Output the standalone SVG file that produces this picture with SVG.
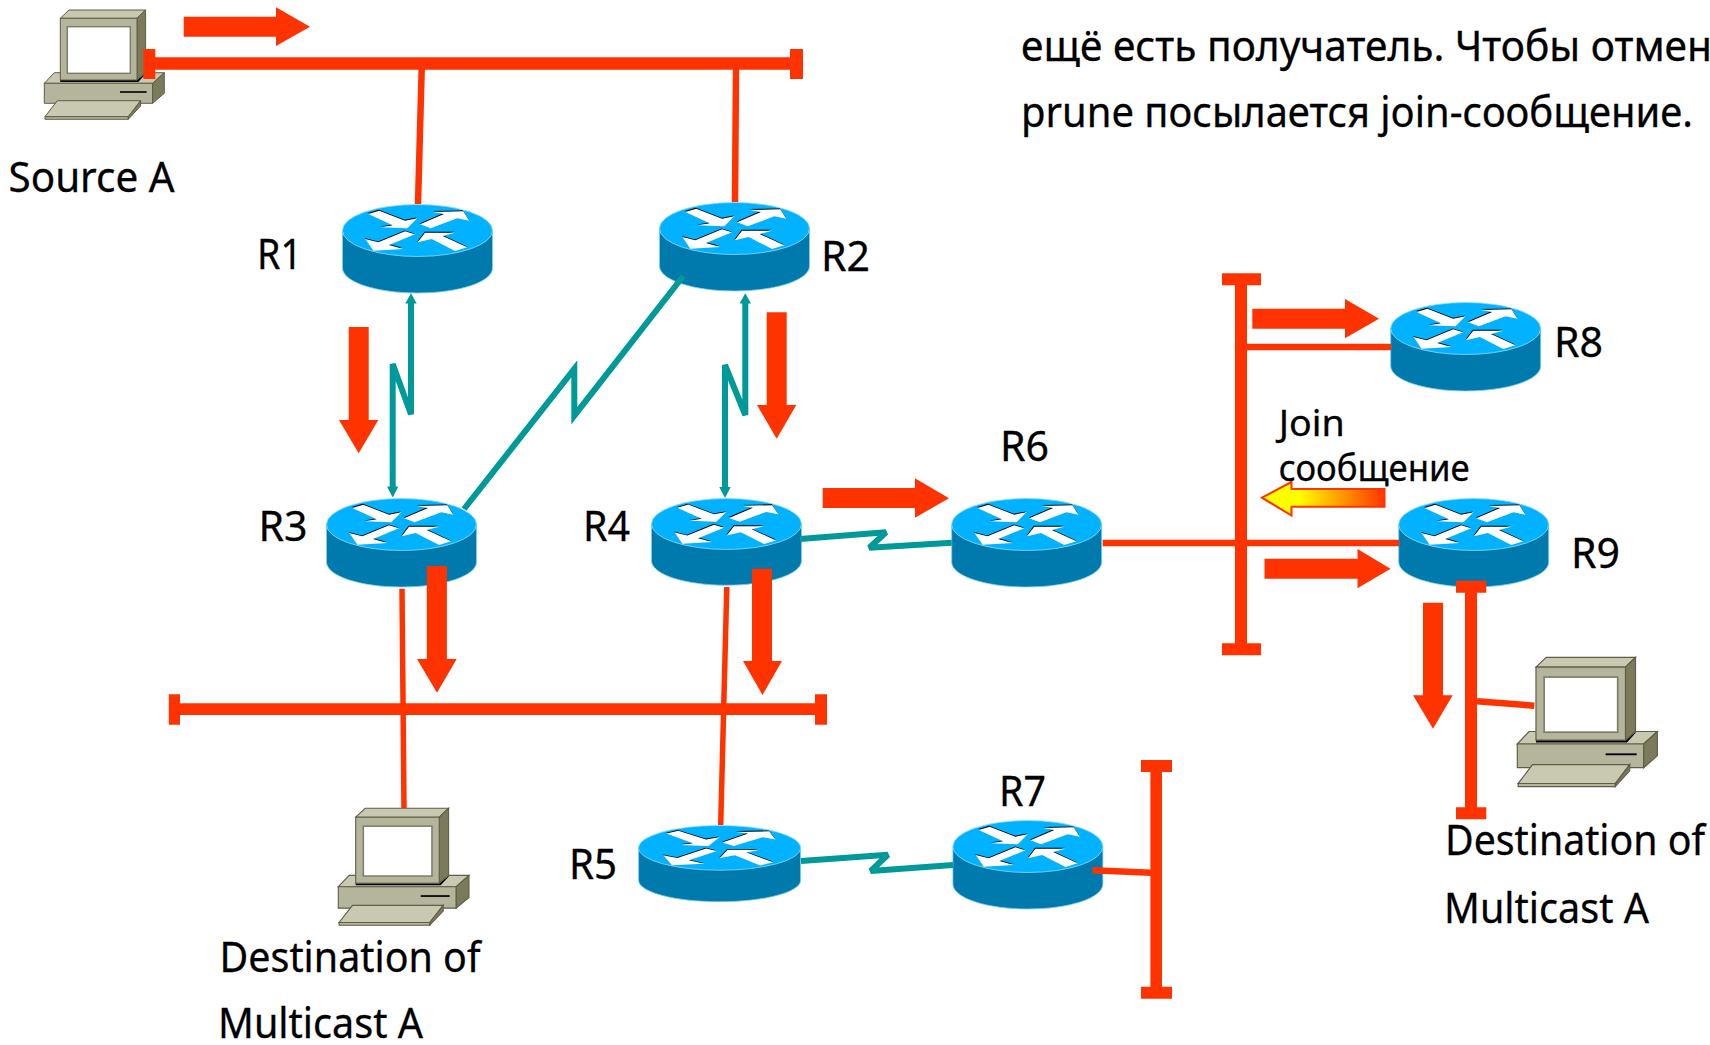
<svg xmlns="http://www.w3.org/2000/svg" xmlns:xlink="http://www.w3.org/1999/xlink" width="1710" height="1045" viewBox="0 0 1710 1045">
<style>
text{font-family:"Noto Sans","DejaVu Sans",sans-serif;fill:#000;font-size:41px;stroke:#000;stroke-width:0.3}
.red{fill:#ff3300}
.rl{fill:none;stroke:#ff3300;stroke-width:6.5}
.tl{fill:none;stroke:#009999;stroke-width:6;stroke-linejoin:miter}
.tz{fill:none;stroke:#009999;stroke-width:6;stroke-linejoin:bevel}
.tah{fill:#009999}
.pa{fill:#c9c9b1;stroke:#5e5e48;stroke-width:1}
.pb{fill:#b5b59b;stroke:#5e5e48;stroke-width:1}
.pc{fill:#7b7b5b;stroke:#5e5e48;stroke-width:1}
</style>
<defs>
<linearGradient id="joinGrad" gradientUnits="userSpaceOnUse" x1="1262" y1="0" x2="1385" y2="0">
<stop offset="0" stop-color="#ffff00"/><stop offset="0.3" stop-color="#ffff00"/><stop offset="1" stop-color="#ff3300"/>
</linearGradient>
<g id="arrows">
<polygon points="25.8,10 36.8,6.7 62.5,16.7 74.8,14.3 64.8,24.3 38.2,23.3 50.2,21.3"/>
<polygon points="77.5,20.3 101.5,10 90.2,8 120.8,7.3 126.8,16.7 114.8,14.3 88.2,24.3"/>
<polygon points="22.8,35 35.8,38.3 62.5,27.3 72.5,30.3 46.5,41 60.8,45 30.8,46.7"/>
<polygon points="75.2,38.3 82.5,28.7 112.5,28.7 100.2,32 124.8,43.3 112.5,47 89.2,35"/>
</g>
<g id="router">
<path d="M0,26.5V64C0,78 33.6,89 75,89S150,78 150,64V26.5Z" fill="#0079ad" stroke="#7fd0ee" stroke-width="0.8"/>
<ellipse cx="75" cy="26.5" rx="75" ry="26" fill="#00b2ff" stroke="#8fdcf8" stroke-width="0.8"/>
<use xlink:href="#arrows" href="#arrows" fill="#000" transform="translate(-0.4,-0.9)"/>
<use xlink:href="#arrows" href="#arrows" fill="#fff"/>
</g>
<g id="pc">
<polygon class="pa" points="0,73.3 10,62.7 120,62.7 108.3,73.3"/>
<polygon class="pb" points="0,73.3 108.3,73.3 108.3,93.3 0,93.3"/>
<polygon class="pc" points="108.3,73.3 120,62.7 120,83.3 108.3,93.3"/>
<rect x="75.7" y="81.2" width="26.6" height="1.6" fill="#000"/>
<polygon points="16,70 92.7,70 101.3,62.7 101.3,64 94,72 16,72" fill="#000"/>
<polygon class="pa" points="16,8.3 24.7,0 101.3,0 92.7,8.3"/>
<polygon class="pc" points="92.7,8.3 101.3,0 101.3,62.7 92.7,70"/>
<rect class="pb" x="16" y="8.3" width="76.7" height="61.7"/>
<rect x="23" y="16.7" width="63" height="46.6" fill="#fff" stroke="#7c7c68" stroke-width="1.4"/>
<polygon class="pa" points="13,90.7 96.3,90.7 84,106.7 0.7,106.7"/>
<polygon class="pb" points="0.7,106.7 84,106.7 84,109.3 0.7,109.3"/>
<polygon class="pc" points="84,106.7 96.3,90.7 96.3,96 84,109.3"/>
</g>
</defs>

<g id="nodes-pc">
<g id="source-a-pc"><use xlink:href="#pc" href="#pc" transform="translate(44.3,10)"/></g>
<g id="dest-1-pc"><use xlink:href="#pc" href="#pc" transform="translate(338.3,808.3) scale(1.089,1.07)"/></g>
<g id="dest-2-pc"><use xlink:href="#pc" href="#pc" transform="translate(1517.3,657.3) scale(1.167,1.183)"/></g>
</g>

<g id="routers">
<g id="R1"><use xlink:href="#router" href="#router" transform="translate(342.5,204)"/></g>
<g id="R2"><use xlink:href="#router" href="#router" transform="translate(659.5,202)"/></g>
<g id="R3"><use xlink:href="#router" href="#router" transform="translate(326.5,498)"/></g>
<g id="R4"><use xlink:href="#router" href="#router" transform="translate(651.5,498) scale(1,0.98)"/></g>
<g id="R5"><use xlink:href="#router" href="#router" transform="translate(638.6,825) scale(1.08,0.862)"/></g>
<g id="R6"><use xlink:href="#router" href="#router" transform="translate(951.7,498)"/></g>
<g id="R7"><use xlink:href="#router" href="#router" transform="translate(952.9,820)"/></g>
<g id="R8"><use xlink:href="#router" href="#router" transform="translate(1390.7,302)"/></g>
<g id="R9"><use xlink:href="#router" href="#router" transform="translate(1398.7,498)"/></g>
</g>

<g id="connectors">
<path class="red" d="M143.3,49h12v8.3H790V49h13v30H790V69.7H155.3V79h-12Z"/>
<path class="red" d="M168.8,694.3h11.2v9H815v-9h12v30.4H815V715H180v9.7h-11.2Z"/>
<path class="red" d="M1222,273.3h39v12h-14V643.3h14v12h-39v-12h13V285.3h-13Z"/>
<path class="red" d="M1141,760h31v12h-10V986.7h10v12h-31v-12h9.4V772h-9.4Z"/>
<path class="red" d="M1456,580.7h30.3v12h-9.3V807.3h9.3v12H1456v-12h9V592.7h-9Z"/>
<path class="rl" d="M421.7,69 418,204"/>
<path class="rl" d="M736,69 735,202"/>
<path class="rl" style="stroke-width:5.5" d="M402,588.7 404,808"/>
<path class="rl" style="stroke-width:5.5" d="M726.8,587 720.7,825"/>
<path class="rl" d="M1102.7,543H1399"/>
<path class="rl" d="M1247,347H1391"/>
<path class="rl" d="M1092.5,870.3 1151,872.7"/>
<path class="rl" d="M1477,701.3 1534.3,705.7"/>
<path class="tl" d="M411,300V414.3L392.7,364V490"/>
<path class="tl" d="M745.3,300V415L725,365V491"/>
<path class="tl" d="M683.3,276 574.3,415.7V369L464,509"/>
<path class="tz" d="M800,539 886,532.3 869.3,547.7 951.7,542.7"/>
<path class="tz" d="M801,861 887.9,854.7 870.7,871 953,865"/>
<polygon class="tah" points="411,293.3 416.7,303.5 405.3,303.5"/>
<polygon class="tah" points="745.3,293.3 751,303.5 739.6,303.5"/>
<polygon class="tah" points="392.7,497.5 387,486.5 398.4,486.5"/>
<polygon class="tah" points="725,498 719.3,487 730.7,487"/>
<polygon class="red" points="183.7,16.7 276,16.7 276,7.3 310,26.7 276,46 276,36.7 183.7,36.7"/>
<polygon class="red" points="348.7,327 368.7,327 368.7,420 378.3,420 358.7,453.3 339,420 348.7,420"/>
<polygon class="red" points="766.7,312.3 786.7,312.3 786.7,405 796.3,405 776.7,438.7 757,405 766.7,405"/>
<polygon class="red" points="822.7,488 915,488 915,478.3 949,498.3 915,517.7 915,508 822.7,508"/>
<polygon class="red" points="1252.3,308.7 1345,308.7 1345,299 1379,318.7 1345,338.3 1345,328.7 1252.3,328.7"/>
<polygon class="red" points="1264.5,558.7 1357.5,558.7 1357.5,549 1390.6,568.7 1357.5,588.3 1357.5,578.7 1264.5,578.7"/>
<polygon class="red" points="426.8,566 446.9,566 446.9,659 456.7,659 437,692.7 417,659 426.8,659"/>
<polygon class="red" points="752,568.7 772,568.7 772,661 782,661 762.5,695 743,661 752,661"/>
<polygon class="red" points="1423,602.7 1443,602.7 1443,695.3 1452.7,695.3 1433,728.7 1413,695.3 1423,695.3"/>
<polygon points="1262,497.7 1291.5,482 1291.5,489 1384.5,489 1384.5,506.7 1291.5,506.7 1291.5,515.5" fill="url(#joinGrad)" stroke="#ff3300" stroke-width="2"/>
</g>

<g id="labels">
<text x="8.5" y="191.7" textLength="166" lengthAdjust="spacingAndGlyphs">Source A</text>
<text x="257" y="269.3" textLength="45" lengthAdjust="spacingAndGlyphs">R1</text>
<text x="821" y="271" textLength="49" lengthAdjust="spacingAndGlyphs">R2</text>
<text x="258.6" y="541" textLength="49" lengthAdjust="spacingAndGlyphs">R3</text>
<text x="583" y="541" textLength="47" lengthAdjust="spacingAndGlyphs">R4</text>
<text x="569" y="879" textLength="48" lengthAdjust="spacingAndGlyphs">R5</text>
<text x="1000" y="461" textLength="49" lengthAdjust="spacingAndGlyphs">R6</text>
<text x="999" y="805.7" textLength="47" lengthAdjust="spacingAndGlyphs">R7</text>
<text x="1554" y="356.5" textLength="49" lengthAdjust="spacingAndGlyphs">R8</text>
<text x="1571" y="567.7" textLength="49" lengthAdjust="spacingAndGlyphs">R9</text>
<text x="1278.7" y="435.7" textLength="66" lengthAdjust="spacingAndGlyphs" style="font-size:37px">Join</text>
<text x="1278.7" y="480.7" textLength="191" lengthAdjust="spacingAndGlyphs" style="font-size:37px">сообщение</text>
<text x="219.5" y="972" textLength="261" lengthAdjust="spacingAndGlyphs">Destination of</text>
<text x="218" y="1038" textLength="205" lengthAdjust="spacingAndGlyphs">Multicast A</text>
<text x="1445" y="855" textLength="260" lengthAdjust="spacingAndGlyphs">Destination of</text>
<text x="1444" y="922.7" textLength="205" lengthAdjust="spacingAndGlyphs">Multicast A</text>
<text x="1021" y="61" textLength="691" lengthAdjust="spacingAndGlyphs">ещё есть получатель. Чтобы отмен</text>
<text x="1021" y="127" textLength="672" lengthAdjust="spacingAndGlyphs">prune посылается join-сообщение.</text>
</g>
</svg>
